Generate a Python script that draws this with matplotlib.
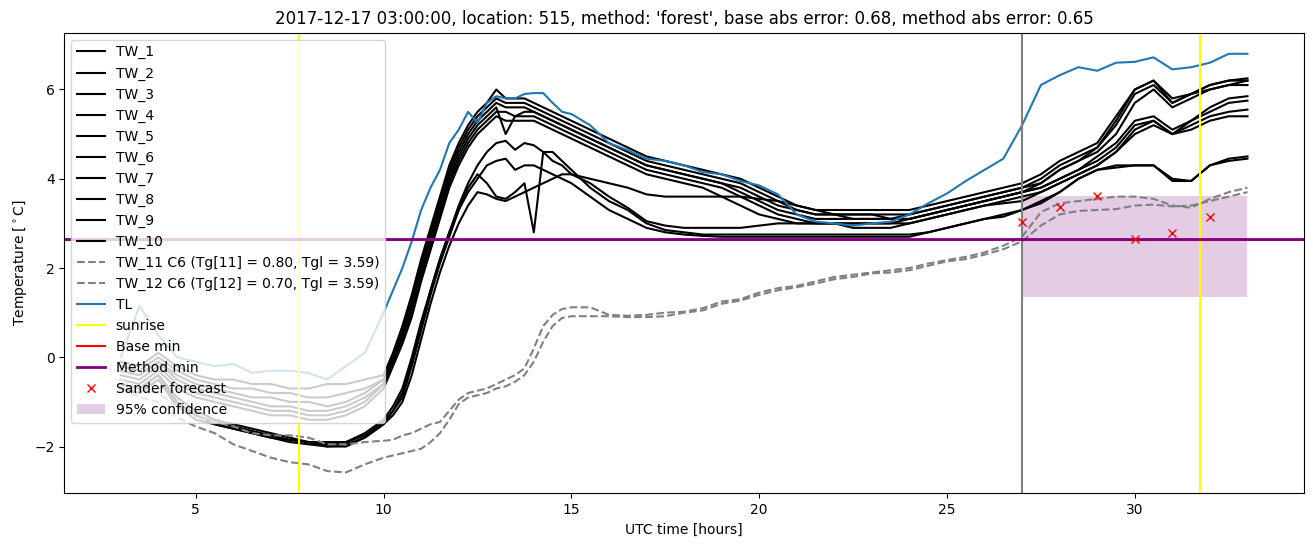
import numpy as np
import matplotlib
matplotlib.use("Agg")
import matplotlib.pyplot as plt

# time grid [hours UTC]: half hourly, quarter hourly around the morning rise
hours = np.concatenate([np.arange(3.0, 10.01, 0.5),
                        np.arange(10.25, 15.01, 0.25),
                        np.arange(15.5, 33.01, 0.5)])

# road surface sensors TW_1 .. TW_10 (night 1 | rise 10.25-15 | rest)
tw_1 = ([-0.1, -0.2, 0.1, -0.2, -0.4, -0.5, -0.5, -0.6, -0.6, -0.7, -0.7, -0.6, -0.6, -0.5, -0.4]
        + [0.1, 0.7, 1.4, 2.2, 2.9, 3.6, 4.3, 4.8, 5.2, 5.5, 5.7, 6.0, 5.8, 5.8, 5.8, 5.7, 5.6, 5.5, 5.4, 5.3]
        + [5.1, 4.9, 4.7, 4.5, 4.4, 4.3, 4.2, 4.1, 4.0, 3.8, 3.6, 3.4, 3.3, 3.3, 3.3, 3.3, 3.3, 3.3,
           3.4, 3.5, 3.6, 3.7, 3.8, 3.9, 4.1, 4.4, 4.6, 4.8, 5.4, 6.0, 6.2, 5.8, 5.9, 6.1, 6.2, 6.25])
tw_2 = ([-0.2, -0.3, 0.0, -0.3, -0.5, -0.6, -0.7, -0.7, -0.8, -0.8, -0.9, -0.9, -0.8, -0.7, -0.5]
        + [0.0, 0.6, 1.3, 2.1, 2.8, 3.5, 4.2, 4.7, 5.1, 5.4, 5.6, 5.8, 5.7, 5.7, 5.7, 5.6, 5.5, 5.4, 5.3, 5.2]
        + [5.0, 4.8, 4.6, 4.4, 4.3, 4.2, 4.1, 4.0, 3.9, 3.7, 3.5, 3.3, 3.2, 3.2, 3.2, 3.2, 3.2, 3.2,
           3.3, 3.4, 3.5, 3.6, 3.7, 3.8, 4.0, 4.3, 4.5, 4.7, 5.2, 5.9, 6.1, 5.7, 5.9, 6.0, 6.1, 6.2])
tw_3 = ([-0.3, -0.4, -0.1, -0.4, -0.6, -0.7, -0.8, -0.9, -0.9, -1.0, -1.0, -1.1, -1.0, -0.8, -0.5]
        + [0.0, 0.5, 1.2, 2.0, 2.7, 3.4, 4.1, 4.6, 5.0, 5.3, 5.5, 5.7, 5.6, 5.6, 5.6, 5.5, 5.4, 5.3, 5.2, 5.1]
        + [4.9, 4.7, 4.5, 4.3, 4.2, 4.1, 4.0, 3.9, 3.8, 3.6, 3.4, 3.3, 3.2, 3.2, 3.2, 3.2, 3.1, 3.2,
           3.3, 3.4, 3.5, 3.6, 3.7, 3.8, 3.9, 4.2, 4.4, 4.6, 5.0, 5.7, 6.0, 5.6, 5.8, 6.0, 6.1, 6.1])
tw_4 = ([-0.3, -0.4, -0.1, -0.5, -0.7, -0.8, -0.9, -1.0, -1.1, -1.1, -1.2, -1.2, -1.1, -0.9, -0.6]
        + [-0.1, 0.5, 1.1, 1.9, 2.6, 3.3, 4.0, 4.5, 4.9, 5.2, 5.4, 5.6, 5.0, 5.4, 5.5, 5.5, 5.4, 5.3, 5.2, 5.1]
        + [4.9, 4.7, 4.5, 4.3, 4.2, 4.1, 4.0, 3.9, 3.7, 3.5, 3.3, 3.2, 3.1, 3.1, 3.1, 3.1, 3.1, 3.1,
           3.2, 3.3, 3.4, 3.5, 3.6, 3.7, 3.8, 4.0, 4.2, 4.5, 4.8, 5.3, 5.4, 5.1, 5.3, 5.6, 5.8, 5.85])
tw_5 = ([-0.4, -0.5, -0.2, -0.6, -0.8, -0.9, -1.0, -1.1, -1.2, -1.2, -1.3, -1.3, -1.2, -1.0, -0.6]
        + [-0.1, 0.4, 1.0, 1.8, 2.5, 3.2, 3.9, 4.4, 4.8, 5.1, 5.3, 5.5, 5.5, 5.4, 5.4, 5.4, 5.3, 5.2, 5.1, 5.0]
        + [4.8, 4.6, 4.4, 4.2, 4.1, 4.0, 3.9, 3.8, 3.6, 3.4, 3.2, 3.1, 3.0, 3.0, 3.0, 3.0, 3.0, 3.1,
           3.2, 3.3, 3.4, 3.5, 3.6, 3.7, 3.8, 4.0, 4.2, 4.4, 4.7, 5.2, 5.3, 5.0, 5.3, 5.5, 5.7, 5.75])
tw_6 = ([-0.5, -0.6, -0.3, -0.7, -0.9, -1.0, -1.1, -1.2, -1.3, -1.3, -1.4, -1.4, -1.3, -1.1, -0.7]
        + [-0.2, 0.3, 0.9, 1.7, 2.4, 3.1, 3.8, 4.3, 4.7, 5.0, 5.2, 5.4, 5.3, 5.3, 5.3, 5.3, 5.2, 5.1, 5.0, 4.9]
        + [4.7, 4.5, 4.3, 4.1, 4.0, 3.9, 3.8, 3.6, 3.4, 3.2, 3.1, 3.0, 3.0, 3.0, 2.9, 2.9, 2.9, 3.0,
           3.1, 3.2, 3.3, 3.4, 3.5, 3.6, 3.7, 3.9, 4.1, 4.3, 4.6, 5.0, 5.2, 5.0, 5.2, 5.4, 5.5, 5.55])
tw_7 = ([-0.6, -0.7, -0.4, -0.9, -1.2, -1.4, -1.5, -1.6, -1.7, -1.8, -1.9, -1.9, -1.9, -1.7, -1.4]
        + [-1.1, -0.7, 0.0, 0.8, 1.5, 2.2, 2.8, 3.4, 3.9, 4.3, 4.6, 4.8, 4.85, 4.65, 4.8, 4.75, 4.6, 4.4, 4.3, 4.1]
        + [3.9, 3.6, 3.35, 3.05, 2.95, 2.9, 2.9, 2.9, 2.9, 2.95, 3.0, 3.0, 3.0, 3.0, 3.0, 3.0, 3.0, 3.0,
           3.1, 3.2, 3.3, 3.4, 3.45, 3.5, 3.7, 3.9, 4.1, 4.3, 4.6, 5.1, 5.3, 5.0, 5.1, 5.3, 5.4, 5.4])
tw_8 = ([-0.7, -0.8, -0.5, -1.0, -1.3, -1.5, -1.6, -1.7, -1.8, -1.9, -1.95, -2.0, -1.95, -1.8, -1.5]
        + [-1.2, -0.9, -0.2, 0.6, 1.4, 2.1, 2.7, 3.3, 3.8, 4.1, 3.9, 3.6, 3.55, 3.7, 3.9, 2.8, 4.6, 4.6, 4.4, 4.2]
        + [3.8, 3.5, 3.3, 3.0, 2.85, 2.8, 2.75, 2.75, 2.75, 2.75, 2.75, 2.75, 2.75, 2.75, 2.75, 2.75, 2.75, 2.75,
           2.8, 2.9, 3.0, 3.1, 3.2, 3.3, 3.5, 3.7, 4.0, 4.2, 4.3, 4.3, 4.3, 4.0, 3.95, 4.3, 4.45, 4.5])
tw_9 = ([-0.7, -0.8, -0.5, -1.1, -1.4, -1.5, -1.6, -1.7, -1.8, -1.85, -1.9, -2.0, -2.0, -1.8, -1.5]
        + [-1.3, -1.0, -0.4, 0.4, 1.2, 1.9, 2.5, 3.0, 3.4, 3.7, 3.65, 3.55, 3.5, 3.6, 3.7, 3.8, 3.9, 4.0, 4.1, 4.1]
        + [4.0, 3.9, 3.8, 3.65, 3.6, 3.6, 3.6, 3.6, 3.6, 3.55, 3.5, 3.4, 3.3, 3.2, 3.1, 3.1, 3.1, 3.1,
           3.2, 3.3, 3.4, 3.5, 3.6, 3.7, 3.9, 4.2, 4.4, 4.7, 5.3, 6.0, 6.2, 5.7, 5.9, 6.1, 6.2, 6.2])
tw_10 = ([-0.6, -0.7, -0.4, -1.0, -1.3, -1.45, -1.55, -1.65, -1.75, -1.85, -1.9, -1.95, -1.9, -1.75, -1.45]
         + [-1.2, -0.8, -0.1, 0.7, 1.5, 2.2, 2.8, 3.3, 3.7, 4.0, 4.3, 4.4, 4.45, 4.2, 4.3, 4.3, 4.2, 4.1, 4.0, 3.9]
         + [3.6, 3.3, 3.1, 2.9, 2.8, 2.75, 2.72, 2.7, 2.7, 2.7, 2.7, 2.7, 2.7, 2.7, 2.7, 2.7, 2.7, 2.7,
            2.8, 2.9, 3.0, 3.1, 3.15, 3.3, 3.45, 3.7, 4.0, 4.2, 4.25, 4.3, 4.3, 3.95, 3.95, 4.3, 4.4, 4.45])

# C6 sensors (dashed)
tw_11 = ([-0.5, -0.7, -0.8, -1.1, -1.35, -1.45, -1.55, -1.7, -1.75, -1.75, -1.8, -1.95, -1.95, -1.9, -1.87]
         + [-1.85, -1.75, -1.7, -1.6, -1.5, -1.45, -1.2, -0.95, -0.8, -0.75, -0.7, -0.6, -0.5, -0.4, -0.25,
            0.2, 0.7, 0.95, 1.08, 1.12]
         + [1.12, 0.95, 0.93, 0.95, 1.0, 1.02, 1.1, 1.25, 1.3, 1.45, 1.55, 1.6, 1.7, 1.8, 1.85, 1.9, 1.95, 2.0,
            2.1, 2.18, 2.25, 2.35, 2.5, 2.7, 3.25, 3.45, 3.5, 3.55, 3.6, 3.6, 3.55, 3.4, 3.35, 3.55, 3.7, 3.8])
tw_12 = ([-0.7, -0.9, -1.0, -1.35, -1.55, -1.7, -1.95, -2.1, -2.25, -2.35, -2.4, -2.55, -2.58, -2.4, -2.25]
         + [-2.2, -2.15, -2.1, -2.05, -1.9, -1.7, -1.4, -1.05, -0.9, -0.85, -0.8, -0.7, -0.65, -0.55, -0.4,
            -0.1, 0.35, 0.7, 0.88, 0.92]
         + [0.92, 0.92, 0.9, 0.9, 0.92, 1.0, 1.05, 1.2, 1.27, 1.4, 1.5, 1.57, 1.65, 1.75, 1.8, 1.88, 1.9, 1.95,
            2.05, 2.15, 2.2, 2.3, 2.42, 2.6, 2.95, 3.2, 3.28, 3.3, 3.32, 3.4, 3.42, 3.38, 3.4, 3.5, 3.6, 3.7])

# air temperature
tl = ([0.0, 1.15, 0.5, 0.0, -0.1, -0.2, -0.15, -0.35, -0.3, -0.3, -0.35, -0.5, -0.2, 0.1, 1.0]
      + [1.5, 2.0, 2.6, 3.3, 3.8, 4.2, 4.8, 5.1, 5.5, 5.25, 5.7, 5.85, 5.8, 5.8, 5.9, 5.92, 5.92, 5.7, 5.5, 5.45]
      + [5.2, 4.8, 4.64, 4.45, 4.4, 4.3, 4.15, 4.1, 3.95, 3.85, 3.65, 3.2, 3.04, 3.0, 2.95, 3.0, 3.04, 3.2,
         3.45, 3.67, 3.95, 4.2, 4.45, 5.2, 6.1, 6.32, 6.5, 6.42, 6.6, 6.62, 6.72, 6.45, 6.5, 6.6, 6.8, 6.8])

tw_series = [tw_1, tw_2, tw_3, tw_4, tw_5, tw_6, tw_7, tw_8, tw_9, tw_10]
c6_labels = ["TW_11 C6 (Tg[11] = 0.80, Tgl = 3.59)", "TW_12 C6 (Tg[12] = 0.70, Tgl = 3.59)"]

sunrise = [7.75, 31.73]
forecast_time = 27.0
base_min = 2.635
method_min = 2.66

sander_hours = [27, 28, 29, 30, 31, 32]
sander_temp = [3.02, 3.37, 3.61, 2.64, 2.78, 3.15]
conf_hours = [27.0, 33.0]
conf_low = 1.35
conf_high = 3.62

fig = plt.figure(figsize=(13.13, 5.47), dpi=100)
ax = fig.add_axes([0.049, 0.098, 0.944, 0.842])

for i, vals in enumerate(tw_series):
    ax.plot(hours, vals, color='black', label='TW_%d' % (i + 1))
ax.plot(hours, tw_11, color='gray', linestyle='--', label=c6_labels[0])
ax.plot(hours, tw_12, color='gray', linestyle='--', label=c6_labels[1])
ax.plot(hours, tl, color='C0', label='TL')

ax.axvline(sunrise[0], color='yellow', label='sunrise')
ax.axvline(sunrise[1], color='yellow')
ax.axvline(forecast_time, color='gray')
ax.axhline(base_min, color='red', label='Base min')
ax.axhline(method_min, color='purple', linewidth=2, label='Method min')
ax.plot(sander_hours, sander_temp, 'rx', label='Sander forecast')
ax.fill_between(conf_hours, conf_low, conf_high, color='purple', alpha=0.2,
                linewidth=0, label='95% confidence')

ax.set_xlim(1.5, 34.5)
ax.set_ylim(-3.05, 7.27)
ax.set_xlabel('UTC time [hours]')
ax.set_ylabel(r'Temperature [$^\circ$C]')
ax.set_title("2017-12-17 03:00:00, location: 515, method: 'forest', "
             "base abs error: 0.68, method abs error: 0.65")
ax.legend(loc='upper left')

fig.savefig('out.png', dpi=100)
